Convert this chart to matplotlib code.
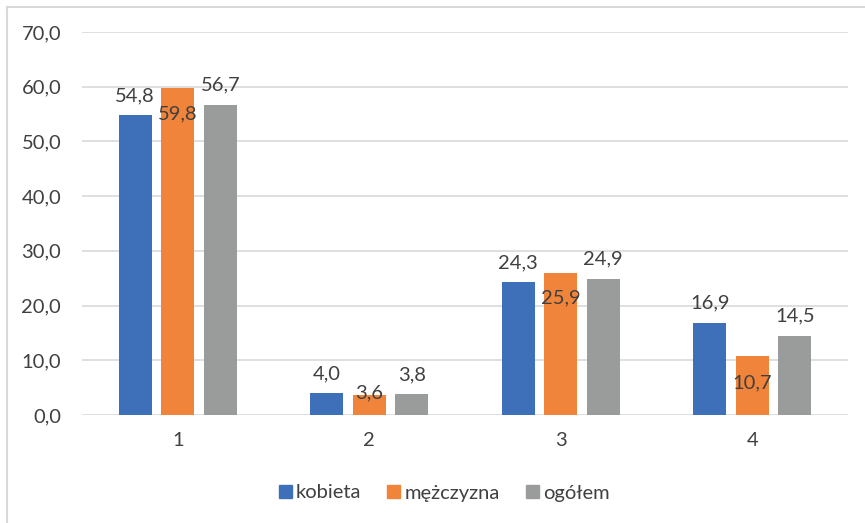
import numpy as np
import matplotlib.pyplot as plt
from matplotlib.lines import Line2D

plt.rcParams['font.family'] = ['Lato', 'DejaVu Sans']

categories = ['1', '2', '3', '4']
series_names = ['kobieta', 'mężczyzna', 'ogółem']
kobieta = [54.8, 4.0, 24.3, 16.9]
mezczyzna = [59.8, 3.6, 25.9, 10.7]
ogolem = [56.7, 3.8, 24.9, 14.5]
yticks = [0, 10, 20, 30, 40, 50, 60, 70]

colors = ['#3d70b9', '#f0843a', '#9a9c9c']
# vertical label offsets (points) per series and category
label_dy = [
    [14, 14, 14, 14],
    [-19, 1.5, -18, -19],
    [14, 14, 14, 14],
]

txt = '#404040'
fs = 14.5
fig = plt.figure(figsize=(8.65, 5.23), dpi=100)
ax = fig.add_axes([82 / 865, 1 - 415 / 523, 766 / 865, 383 / 523])

x = np.arange(1, len(categories) + 1)
width = 0.172
pitch = 0.222
data = [kobieta, mezczyzna, ogolem]
for i, (vals, c) in enumerate(zip(data, colors)):
    xs = x + (i - 1) * pitch
    ax.bar(xs, vals, width=width, color=c, zorder=3)
    for xi, v, dy in zip(xs, vals, label_dy[i]):
        ax.annotate(f'{v:.1f}'.replace('.', ','), (xi, v), xytext=(0, dy),
                    textcoords='offset points', ha='center', va='center',
                    fontsize=fs, color=txt, zorder=4)

ax.set_xlim(0.5, 4.5)
ax.set_ylim(0, 70)
ax.set_yticks(yticks)
ax.set_yticklabels([f'{t:.1f}'.replace('.', ',') for t in yticks], fontsize=fs, color=txt)
ax.set_xticks(x)
ax.set_xticklabels(categories, fontsize=fs, color=txt)
ax.tick_params(length=0)
ax.tick_params(axis='y', pad=15)
ax.tick_params(axis='x', pad=12)
ax.grid(axis='y', color='#d9d9d9', linewidth=1.2, zorder=0)
for s in ax.spines.values():
    s.set_visible(False)

handles = [plt.Rectangle((0, 0), 1, 1, color=c) for c in colors]
fig.legend(handles, series_names, loc='center', bbox_to_anchor=(444 / 865, 1 - 493 / 523),
           ncol=3, frameon=False, fontsize=fs, handlelength=0.65, handleheight=0.65,
           handletextpad=0.2, columnspacing=1.3, labelcolor=txt)

# chart frame (top and left edges)
fig.add_artist(Line2D([7 / 865, 7 / 865], [0, 1 - 7 / 523], transform=fig.transFigure,
                      color='#d9d9d9', linewidth=1.5))
fig.add_artist(Line2D([7 / 865, 1], [1 - 7 / 523, 1 - 7 / 523], transform=fig.transFigure,
                      color='#d9d9d9', linewidth=1.5))

fig.savefig('out.png', dpi=100, facecolor='white')
